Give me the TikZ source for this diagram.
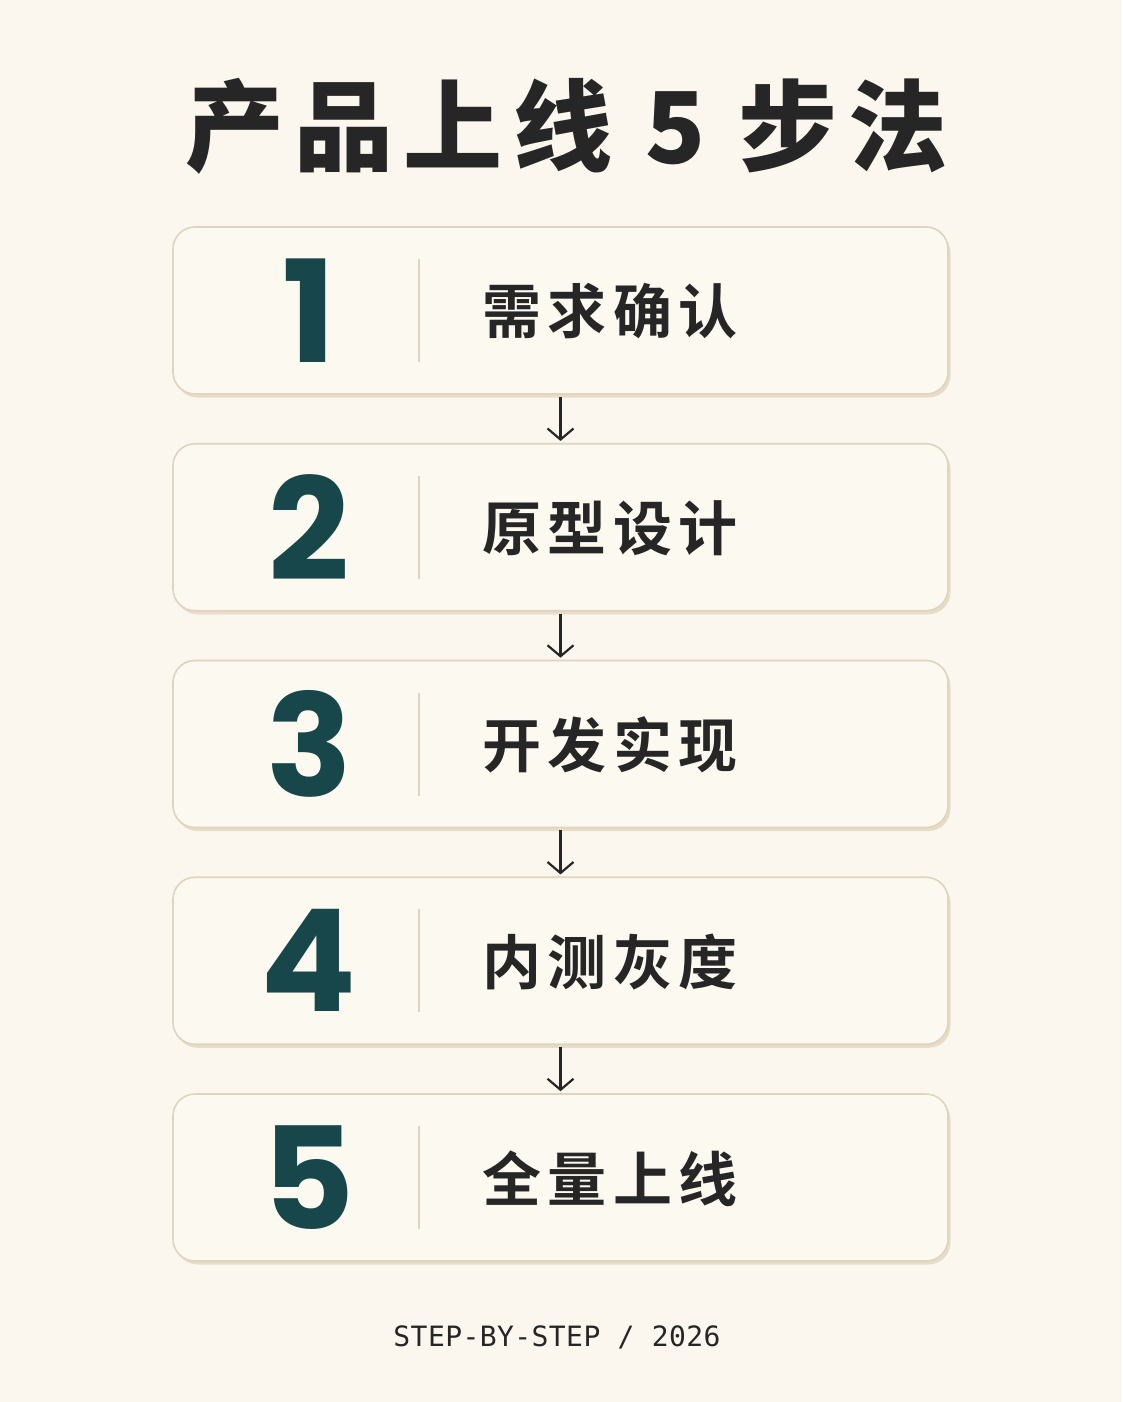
\documentclass[tikz,border=0pt]{standalone}
\usepackage{fontspec}
\usetikzlibrary{arrows.meta,shadows}
\newfontfamily\cjktitle{Noto Sans CJK SC Black}[LetterSpace=10.5]
\newfontfamily\cjklabel{Noto Sans CJK SC Bold}[LetterSpace=11]
\newfontfamily\numfont{Poppins}
\newfontfamily\footfont{DejaVu Sans Mono}[LetterSpace=1.5]
\definecolor{bgc}{HTML}{FBF7EE}
\definecolor{boxc}{HTML}{FCF9F1}
\definecolor{bordc}{HTML}{DED4BF}
\definecolor{shadc}{HTML}{E6DCC8}
\definecolor{tealc}{HTML}{17474A}
\definecolor{inkc}{HTML}{262626}
\begin{document}
\begin{tikzpicture}[x=1pt,y=-1pt,
  stepbox/.style={draw=bordc,line width=1.6pt,fill=boxc,rounded corners=22pt,
    minimum width=775pt,minimum height=167pt,inner sep=0pt,
    drop shadow={shadow xshift=2.5pt,shadow yshift=-3.5pt,opacity=1,fill=shadc}},
  numtext/.style={text=tealc,font=\numfont\bfseries\fontsize{142}{142}\selectfont,inner sep=0pt},
  labtext/.style={text=inkc,font=\cjklabel\fontsize{59}{59}\selectfont,inner sep=0pt,anchor=west},
  divline/.style={draw=bordc,line width=2pt},
  flowarrow/.style={draw=inkc,line width=2.2pt,-{Straight Barb[length=11pt,width=26pt,line width=2.2pt]},shorten <=2pt,shorten >=2pt}
]
\fill[bgc] (0,0) rectangle (1122,1402);
\useasboundingbox (0,0) rectangle (1122,1402);

\node[text=inkc,font=\cjktitle\fontsize{99}{99}\selectfont,inner sep=0pt] (title) at (566,126) {产品上线 5 步法};

\foreach \i/\lab [count=\k from 0] in {1/需求确认,2/原型设计,3/开发实现,4/内测灰度,5/全量上线}{
  \pgfmathsetmacro{\cy}{310.5+216.75*\k}
  \node[stepbox] (s\i) at (560.5,\cy) {};
  \node[numtext] (n\i) at (309,\cy) {\i};
  \coordinate (d\i a) at (419,\cy-51.5);
  \coordinate (d\i b) at (419,\cy+51.5);
  \draw[divline] (d\i a) -- (d\i b);
  \node[labtext] (l\i) at (482,\cy+1) {\lab};
}
\foreach \a/\b in {1/2,2/3,3/4,4/5}{
  \draw[flowarrow] (s\a.south) -- (s\b.north);
}

\node[text=inkc,font=\footfont\fontsize{28}{28}\selectfont,inner sep=0pt] (foot) at (557,1337) {STEP-BY-STEP / 2026};
\end{tikzpicture}
\end{document}
